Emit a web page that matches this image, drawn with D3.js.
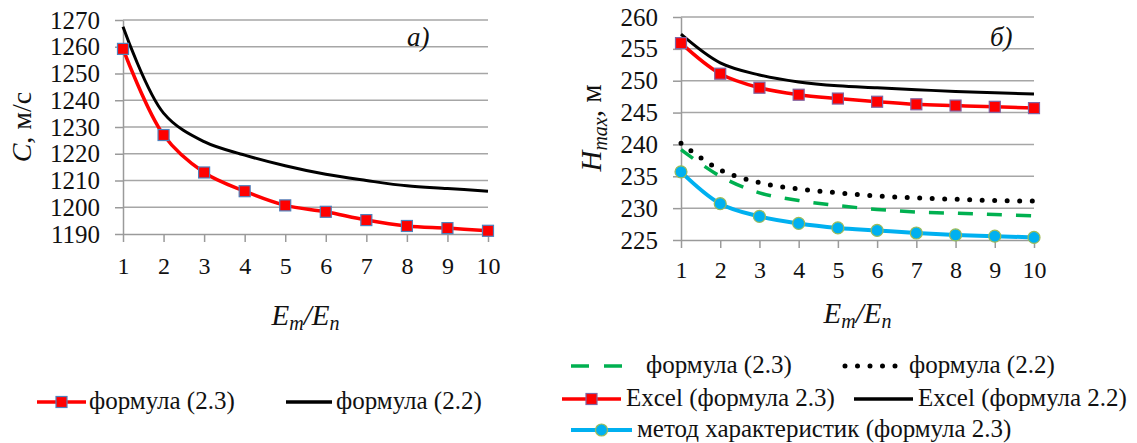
<!DOCTYPE html>
<html>
<head>
<meta charset="utf-8">
<script src="https://cdn.jsdelivr.net/npm/d3@7"></script>
<style>
  body { margin: 0; background: #fff; }
  svg text { font-family: "Liberation Serif", "DejaVu Serif", serif; }
  .axis path, .axis line { stroke: #9a9a9a; stroke-width: 1.5; }
  .grid line { stroke: #a6a6a6; stroke-width: 1.5; }
</style>
</head>
<body>
<svg width="1137" height="443"></svg>
<script>
// x values (E_m/E_n)
const ratio = [1, 2, 3, 4, 5, 6, 7, 8, 9, 10];

// panel a) wave speed C, m/s
const cFormula23 = [1259.2, 1227, 1213, 1206, 1200.7, 1198.3, 1195.2, 1193, 1192.2, 1191.2];
const cFormula22 = [1267.5, 1235.2, 1224.5, 1219.5, 1215.5, 1212.3, 1210, 1208, 1207, 1206];
const cTicks = [1190, 1200, 1210, 1220, 1230, 1240, 1250, 1260, 1270];

// panel б) max head H_max, m
const hFormula23 = [239.2, 235, 232.4, 231.2, 230.4, 229.8, 229.4, 229.2, 229, 228.8];
const hFormula22 = [240.2, 236, 234, 233, 232.4, 231.9, 231.6, 231.4, 231.2, 231.1];
const hExcel23 = [255.9, 251.1, 248.9, 247.8, 247.2, 246.7, 246.3, 246.1, 245.9, 245.7];
const hExcel22 = [257.3, 252.8, 250.9, 249.8, 249.2, 248.9, 248.6, 248.3, 248.1, 247.9];
const hCharact = [235.7, 230.7, 228.7, 227.6, 226.9, 226.5, 226.1, 225.8, 225.6, 225.4];
const hTicks = [225, 230, 235, 240, 245, 250, 255, 260];

const svg = d3.select("svg");
const serif = "'Liberation Serif', 'DejaVu Serif', serif";

const curve = d3.curveCatmullRom.alpha(0.5);

function panel(opts) {
  const x = d3.scaleLinear().domain([1, 10]).range([opts.x0, opts.x1]);
  const y = d3.scaleLinear().domain(opts.yDomain).range([opts.yBottom, opts.yTop]);
  const g = svg.append("g");

  // horizontal gridlines
  g.append("g").attr("class", "grid")
    .selectAll("line").data(opts.yTicks.slice(1)).enter().append("line")
    .attr("x1", x(1)).attr("x2", x(10))
    .attr("y1", d => y(d)).attr("y2", d => y(d));

  const yAxis = g.append("g").attr("class", "axis")
    .attr("transform", `translate(${x(1)},0)`)
    .call(d3.axisLeft(y).tickValues(opts.yTicks).tickFormat(d3.format("d"))
      .tickSize(8).tickSizeOuter(0).tickPadding(15));
  yAxis.attr("font-family", serif).attr("font-size", 25);
  yAxis.selectAll("text").attr("fill", "#111");

  const xAxis = g.append("g").attr("class", "axis")
    .attr("transform", `translate(0,${y(opts.yDomain[0])})`)
    .call(d3.axisBottom(x).tickValues(ratio).tickSize(8).tickSizeOuter(0).tickPadding(opts.xPad));
  xAxis.attr("font-family", serif).attr("font-size", 24);
  xAxis.selectAll("text").attr("fill", "#111");

  // x title E_m/E_n
  const xt = g.append("text")
    .attr("x", x(5.5)).attr("y", opts.yBottom + opts.titleOff)
    .attr("text-anchor", "middle").attr("font-size", 29).attr("fill", "#111")
    .attr("font-style", "italic");
  xt.append("tspan").text("E");
  xt.append("tspan").text("m").attr("font-size", 20).attr("dy", 5);
  xt.append("tspan").text("/").attr("dy", -5);
  xt.append("tspan").text("E");
  xt.append("tspan").text("n").attr("font-size", 20).attr("dy", 5);

  g.append("text").attr("x", opts.tag.x).attr("y", 46)
    .attr("font-size", 27).attr("font-style", "italic").attr("fill", "#111")
    .text(opts.tag.text);

  return { x, y, g };
}

function drawLine(p, values, color, width, dash, cap) {
  p.g.append("path")
    .datum(values)
    .attr("fill", "none")
    .attr("stroke", color)
    .attr("stroke-width", width)
    .attr("stroke-dasharray", dash)
    .attr("stroke-linecap", cap || "butt")
    .attr("d", d3.line().x((d, i) => p.x(ratio[i])).y(d => p.y(d)).curve(curve));
}

function squares(p, values, stroke) {
  p.g.selectAll(null).data(values).enter().append("rect")
    .attr("x", (d, i) => p.x(ratio[i]) - 5.5)
    .attr("y", d => p.y(d) - 5.5)
    .attr("width", 11).attr("height", 11)
    .attr("fill", "#ff0000").attr("stroke", stroke).attr("stroke-width", 1.2);
}

// ----- panel a)
const pa = panel({ x0: 123, x1: 488, yTop: 20, yBottom: 234, yDomain: [1190, 1270], yTicks: cTicks,
  xPad: 15, titleOff: 91, tag: { x: 407, text: "a)" } });
drawLine(pa, cFormula22, "#000", 3);
drawLine(pa, cFormula23, "#ff0000", 3.5);
squares(pa, cFormula23, "#4f81bd");

const ya = svg.append("text")
  .attr("transform", "translate(31,127) rotate(-90)")
  .attr("text-anchor", "middle").attr("font-size", 28).attr("fill", "#111");
ya.append("tspan").text("C").attr("font-style", "italic");
ya.append("tspan").text(", м/с");

// ----- panel б)
const pb = panel({ x0: 681, x1: 1034, yTop: 17, yBottom: 240, yDomain: [225, 260], yTicks: hTicks,
  xPad: 13, titleOff: 83, tag: { x: 990, text: "б)" } });
drawLine(pb, hExcel22, "#000", 3);
drawLine(pb, hExcel23, "#ff0000", 3.5);
squares(pb, hExcel23, "#8064a2");
drawLine(pb, hFormula22, "#000", 5, "0 12.5", "round");
drawLine(pb, hFormula23, "#00b050", 3.5, "15 14");
drawLine(pb, hCharact, "#00b0f0", 4);
pb.g.selectAll(null).data(hCharact).enter().append("circle")
  .attr("cx", (d, i) => pb.x(ratio[i])).attr("cy", d => pb.y(d))
  .attr("r", 6).attr("fill", "#00b0f0").attr("stroke", "#9bbb59").attr("stroke-width", 1.2);

const yb = svg.append("text")
  .attr("transform", "translate(601,128) rotate(-90)")
  .attr("text-anchor", "middle").attr("font-size", 29).attr("fill", "#111");
yb.append("tspan").text("H").attr("font-style", "italic");
yb.append("tspan").text("max").attr("font-style", "italic").attr("font-size", 20).attr("dy", 6);
yb.append("tspan").text(", м").attr("dy", -6);

// ----- legends
const legendItems = [
  { x1: 37, x2: 86, y: 402, color: "#ff0000", w: 3.5, marker: "sq", mstroke: "#4f81bd", tx: 89, text: "формула (2.3)" },
  { x1: 286, x2: 332, y: 402, color: "#000", w: 3.5, tx: 336, text: "формула (2.2)" },
  { x1: 571, x2: 624, y: 366, color: "#00b050", w: 3.5, dash: "18 15", tx: 646, text: "формула (2.3)" },
  { x1: 845, x2: 904, y: 366, color: "#000", w: 5, dash: "0 12.5", cap: "round", tx: 909, text: "формула (2.2)" },
  { x1: 562, x2: 621, y: 399, color: "#ff0000", w: 3.5, marker: "sq", mstroke: "#8064a2", tx: 626, text: "Excel (формула 2.3)" },
  { x1: 854, x2: 913, y: 399, color: "#000", w: 3.5, tx: 918, text: "Excel (формула 2.2)" },
  { x1: 571, x2: 632, y: 430, color: "#00b0f0", w: 4, marker: "ci", tx: 637, text: "метод характеристик (формула 2.3)" }
];

const lg = svg.append("g");
legendItems.forEach(d => {
  lg.append("line")
    .attr("x1", d.x1).attr("x2", d.x2).attr("y1", d.y).attr("y2", d.y)
    .attr("stroke", d.color).attr("stroke-width", d.w)
    .attr("stroke-dasharray", d.dash || null)
    .attr("stroke-linecap", d.cap || "butt");
  const mx = (d.x1 + d.x2) / 2;
  if (d.marker === "sq") {
    lg.append("rect").attr("x", mx - 5.5).attr("y", d.y - 5.5).attr("width", 11).attr("height", 11)
      .attr("fill", "#ff0000").attr("stroke", d.mstroke).attr("stroke-width", 1.2);
  } else if (d.marker === "ci") {
    lg.append("circle").attr("cx", mx).attr("cy", d.y).attr("r", 6)
      .attr("fill", "#00b0f0").attr("stroke", "#9bbb59").attr("stroke-width", 1.2);
  }
  lg.append("text").attr("x", d.tx).attr("y", d.y + 7)
    .attr("font-size", 25).attr("fill", "#111").text(d.text);
});
</script>
</body>
</html>
